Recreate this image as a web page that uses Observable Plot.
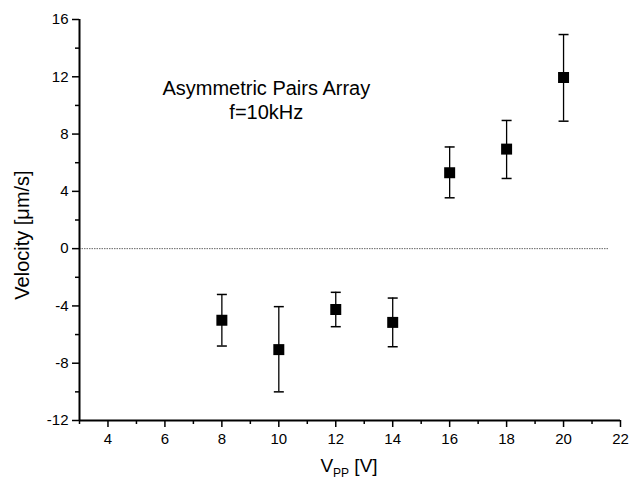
<!DOCTYPE html>
<html><head><meta charset="utf-8">
<script src="https://cdn.jsdelivr.net/npm/d3@7"></script>
<script src="https://cdn.jsdelivr.net/npm/@observablehq/plot@0.6"></script>
<style>
body{margin:0;background:#fff;}
#chart svg{font-family:"Liberation Sans",Arial,sans-serif;}
</style>
</head><body><div id="chart"></div>
<script>
const vpp = [8, 10, 12, 14, 16, 18, 20];
const velocity = [-5.0, -7.05, -4.25, -5.15, 5.3, 6.95, 11.95];
const errLow = [-6.8, -10.0, -5.45, -6.85, 3.55, 4.9, 8.9];
const errHigh = [-3.2, -4.05, -3.05, -3.45, 7.1, 8.95, 14.95];
const xTicks = [4, 6, 8, 10, 12, 14, 16, 18, 20, 22];
const xMinor = [3, 5, 7, 9, 11, 13, 15, 17, 19, 21];
const yTicks = [-12, -8, -4, 0, 4, 8, 12, 16];
const yMinor = [-10, -6, -2, 2, 6, 10, 14];
const annotation = ["Asymmetric Pairs Array", "f=10kHz"];
const yLabel = "Velocity [\u03bcm/s]";

const data = vpp.map((x, i) => ({x, y: velocity[i], lo: errLow[i], hi: errHigh[i]}));
const capSymbol = {draw(ctx, size){const w = Math.sqrt(size/Math.PI); ctx.moveTo(-w,0); ctx.lineTo(w,0);}};

const chart = Plot.plot({
  width: 629, height: 486,
  marginLeft: 79, marginRight: 9, marginTop: 19, marginBottom: 66,
  style: {fontFamily: "Liberation Sans, Arial, sans-serif", fontSize: "15px", color: "#000", background: "#fff"},
  x: {domain: [3, 22]},
  y: {domain: [-12, 16]},
  marks: [
    Plot.axisX({ticks: xTicks, tickSize: 7, tickPadding: 6, label: null, fontSize: 15, strokeWidth: 1.5}),
    Plot.axisX({ticks: xMinor, tickSize: 4, text: null, label: null, strokeWidth: 1.5}),
    Plot.axisY({ticks: yTicks, tickSize: 7, tickPadding: 4, label: null, fontSize: 15, strokeWidth: 1.5, tickFormat: d => d < 0 ? "-" + Math.abs(d) : String(d)}),
    Plot.axisY({ticks: yMinor, tickSize: 4, text: null, label: null, strokeWidth: 1.5}),
    Plot.ruleY([0], {x1: 3, x2: 21.6, stroke: "#666", strokeWidth: 1, strokeDasharray: "1.5,1"}),
    Plot.ruleX([3], {stroke: "#000", strokeWidth: 2}),
    Plot.ruleY([-12], {stroke: "#000", strokeWidth: 2}),
    Plot.ruleX(data, {x: "x", y1: "lo", y2: "hi", stroke: "#000", strokeWidth: 1.3}),
    Plot.dot(data, {x: "x", y: "lo", symbol: capSymbol, r: 5, stroke: "#000", strokeWidth: 1.5, fill: "none"}),
    Plot.dot(data, {x: "x", y: "hi", symbol: capSymbol, r: 5, stroke: "#000", strokeWidth: 1.5, fill: "none"}),
    Plot.dot(data, {x: "x", y: "y", symbol: "square", r: 6.2, fill: "#000", stroke: "none"}),
    Plot.text([annotation.join("\n")], {x: 9.56, y: 10.45, text: d => d, fontSize: 20, lineHeight: 1.2, textAnchor: "middle", lineAnchor: "middle", fill: "#000"}),
    Plot.text([yLabel], {frameAnchor: "left", dx: -57, dy: 15, rotate: -90, textAnchor: "middle", text: d => d, fontSize: 20, fill: "#000"})
  ]
});

const svg = d3.select(chart);
const xl = svg.append("text")
  .attr("x", 349).attr("y", 472)
  .attr("text-anchor", "middle")
  .attr("font-size", 19).attr("fill", "#000")
  .attr("font-family", "Liberation Sans, Arial, sans-serif");
xl.append("tspan").text("V");
xl.append("tspan").attr("font-size", 12).attr("dy", 5).text("PP");
xl.append("tspan").attr("dy", -5).text(" [V]");

document.getElementById("chart").appendChild(chart);
</script>
</body></html>
